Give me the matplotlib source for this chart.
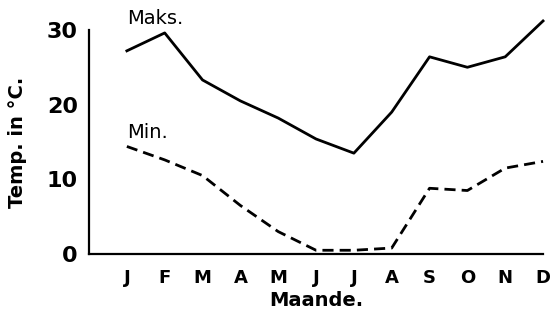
import numpy as np
import matplotlib.pyplot as plt

# Maandelikse temperature (gelees uit die figuur)
maande = ['J', 'F', 'M', 'A', 'M', 'J', 'J', 'A', 'S', 'O', 'N', 'D']
maks = [27.2, 29.6, 23.3, 20.5, 18.2, 15.4, 13.5, 19.0, 26.4, 25.0, 26.4, 31.2]
mins = [14.4, 12.6, 10.5, 6.5, 3.0, 0.5, 0.5, 0.8, 8.8, 8.5, 11.5, 12.4]
y_ticks = [0, 10, 20, 30]

fig = plt.figure(figsize=(5.53, 3.30), dpi=100)
ax = fig.add_axes([0.161, 0.2303, 0.821, 0.679])

x = np.arange(1, len(maande) + 1)
ax.plot(x, maks, color='black', lw=2.0, clip_on=False)
ax.plot(x, mins, color='black', lw=2.0, linestyle=(0, (4, 2.2)), clip_on=False)

ax.set_xlim(0, 12)
ax.set_ylim(0, 30)
ax.set_xticks(x)
ax.set_xticklabels(maande, fontsize=13, fontweight='bold')
ax.set_yticks(y_ticks)
ax.set_yticklabels([str(v) for v in y_ticks], fontsize=16, fontweight='bold')
ax.tick_params(length=0, pad=8)
ax.tick_params(axis='x', pad=11)

for s in ['top', 'right']:
    ax.spines[s].set_visible(False)
for s in ['left', 'bottom']:
    ax.spines[s].set_linewidth(1.6)

ax.text(1.0, 30.2, 'Maks.', fontsize=14, va='bottom', ha='left')
ax.text(1.0, 15.0, 'Min.', fontsize=14, va='bottom', ha='left')

ax.set_xlabel('Maande.', fontsize=14, fontweight='bold', labelpad=3)
ax.set_ylabel('Temp. in °C.', fontsize=14, fontweight='bold', labelpad=14)

fig.savefig('out.png', dpi=100)
